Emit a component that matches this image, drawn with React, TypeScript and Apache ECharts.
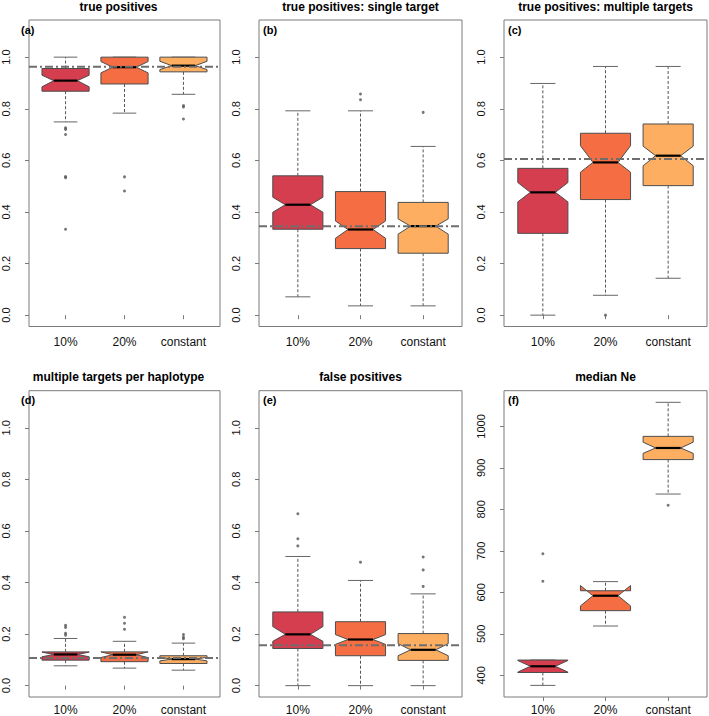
import React, { useEffect, useRef } from 'react';
import * as echarts from 'echarts';

const categories = ['10%', '20%', 'constant'];
const panelTitles = [
  'true positives',
  'true positives: single target',
  'true positives: multiple targets',
  'multiple targets per haplotype',
  'false positives',
  'median Ne',
];
const panelLetters = ['(a)', '(b)', '(c)', '(d)', '(e)', '(f)'];
const boxColors = ['#D53E4F', '#F46D43', '#FDAE61'];

// each row: [lower whisker, Q1, median, Q3, upper whisker, notch low, notch high]
const statsA = [
  [0.749, 0.868, 0.909, 0.956, 1.0, 0.885, 0.93],
  [0.783, 0.896, 0.961, 1.0, 1.0, 0.939, 0.983],
  [0.856, 0.943, 0.967, 1.0, 1.0, 0.952, 0.984],
];
const outliersA = [[0.726, 0.72, 0.7, 0.537, 0.533, 0.333], [0.536, 0.481], [0.812, 0.807, 0.76]];
const refA = 0.963;

const statsB = [
  [0.071, 0.333, 0.428, 0.54, 0.792, 0.399, 0.457],
  [0.036, 0.258, 0.332, 0.479, 0.792, 0.298, 0.365],
  [0.036, 0.24, 0.345, 0.437, 0.654, 0.314, 0.373],
];
const outliersB = [[], [0.857, 0.835], [0.786]];
const refB = 0.345;

const statsC = [
  [0.0, 0.317, 0.476, 0.569, 0.898, 0.439, 0.514],
  [0.077, 0.448, 0.592, 0.705, 0.964, 0.554, 0.657],
  [0.143, 0.502, 0.618, 0.741, 0.964, 0.579, 0.655],
];
const outliersC = [[], [0.0], []];
const refC = 0.605;

const statsD = [
  [0.077, 0.099, 0.121, 0.131, 0.183, 0.112, 0.13],
  [0.068, 0.093, 0.12, 0.131, 0.172, 0.109, 0.131],
  [0.06, 0.086, 0.103, 0.116, 0.165, 0.096, 0.11],
];
const outliersD = [[0.234, 0.226, 0.203, 0.196], [0.265, 0.242, 0.219], [0.198, 0.188, 0.182]];
const refD = 0.107;

const statsE = [
  [0.0, 0.144, 0.199, 0.286, 0.501, 0.172, 0.229],
  [0.0, 0.116, 0.179, 0.248, 0.408, 0.16, 0.198],
  [0.0, 0.098, 0.139, 0.202, 0.356, 0.116, 0.163],
];
const outliersE = [[0.667, 0.57, 0.542], [0.479], [0.499, 0.449, 0.385]];
const refE = 0.157;

const statsF = [
  [376, 407, 422, 437, 437, 408, 436],
  [519, 556, 592, 604, 626, 567.5, 616.5],
  [837, 920, 948, 976, 1058, 935, 962],
];
const outliersF = [[693, 627], [], [810]];

const unitTicks = [0, 0.2, 0.4, 0.6, 0.8, 1.0];
const neTicks = [400, 500, 600, 700, 800, 900, 1000];

const FONT = "'Liberation Sans', Arial, Helvetica, sans-serif";
const FRAME = '#7a7a7a';

// layout
const colLefts = [17, 259, 504];
const rowTops = [20, 390.7];
const rowHeights = [306.5, 307.6];
const panelWidth = 203;
const xMin = 0.38;
const xMax = 3.62;

const panels = [
  { stats: statsA, outliers: outliersA, ref: refA, ticks: unitTicks, yMin: -0.044, yMax: 1.144, dec: 1 },
  { stats: statsB, outliers: outliersB, ref: refB, ticks: unitTicks, yMin: -0.044, yMax: 1.144, dec: 1 },
  { stats: statsC, outliers: outliersC, ref: refC, ticks: unitTicks, yMin: -0.044, yMax: 1.144, dec: 1 },
  { stats: statsD, outliers: outliersD, ref: refD, ticks: unitTicks, yMin: -0.044, yMax: 1.144, dec: 1 },
  { stats: statsE, outliers: outliersE, ref: refE, ticks: unitTicks, yMin: -0.044, yMax: 1.144, dec: 1 },
  { stats: statsF, outliers: outliersF, ref: null as number | null, ticks: neTicks, yMin: 348, yMax: 1086, dec: 0 },
];

function renderBox(params: any, api: any) {
  const x = api.value(0);
  const lo = api.value(1);
  const q1 = api.value(2);
  const med = api.value(3);
  const q3 = api.value(4);
  const hi = api.value(5);
  const cLo = api.value(6);
  const cHi = api.value(7);
  const w = 0.4;
  const wn = 0.2;
  const sw = 0.2;
  const P = (a: number, b: number) => api.coord([a, b]);
  const children: any[] = [];
  const dashStyle = { stroke: '#555', lineWidth: 1, lineDash: [3, 2] };
  const capStyle = { stroke: '#666', lineWidth: 1 };
  const seg = (a: number[], b: number[], style: any) => ({
    type: 'line',
    shape: { x1: a[0], y1: a[1], x2: b[0], y2: b[1] },
    style,
  });
  if (hi > q3) children.push(seg(P(x, q3), P(x, hi), dashStyle));
  if (lo < q1) children.push(seg(P(x, q1), P(x, lo), dashStyle));
  children.push(seg(P(x - sw, hi), P(x + sw, hi), capStyle));
  children.push(seg(P(x - sw, lo), P(x + sw, lo), capStyle));
  const pts = [
    P(x - w, q1),
    P(x + w, q1),
    P(x + w, cLo),
    P(x + wn, med),
    P(x + w, cHi),
    P(x + w, q3),
    P(x - w, q3),
    P(x - w, cHi),
    P(x - wn, med),
    P(x - w, cLo),
  ];
  children.push({
    type: 'polygon',
    shape: { points: pts },
    style: { fill: boxColors[params.dataIndex], stroke: '#4d4d4d', lineWidth: 1 },
  });
  children.push(seg(P(x - wn, med), P(x + wn, med), { stroke: '#000', lineWidth: 2.2 }));
  return { type: 'group', children };
}

function buildOption() {
  const grid: any[] = [];
  const xAxis: any[] = [];
  const yAxis: any[] = [];
  const series: any[] = [];
  const graphic: any[] = [];

  panels.forEach((p, i) => {
    const row = Math.floor(i / 3);
    const col = i % 3;
    const left = colLefts[col];
    const top = rowTops[row];
    const height = rowHeights[row];
    grid.push({
      left,
      top,
      width: panelWidth,
      height,
      show: true,
      borderColor: FRAME,
      borderWidth: 1,
      backgroundColor: 'transparent',
      containLabel: false,
    });
    xAxis.push({
      gridIndex: i,
      type: 'value',
      min: xMin,
      max: xMax,
      splitLine: { show: false },
      axisLine: { show: false },
      axisTick: { show: true, customValues: [1, 2, 3], length: 4, lineStyle: { color: FRAME } },
      axisLabel: {
        customValues: [1, 2, 3],
        formatter: (v: number) => categories[Math.round(v) - 1] ?? '',
        margin: row === 0 ? 9.5 : 7,
        fontSize: 12,
        color: '#111',
        fontFamily: FONT,
      },
    });
    yAxis.push({
      gridIndex: i,
      type: 'value',
      min: p.yMin,
      max: p.yMax,
      splitLine: { show: false },
      axisLine: { show: false },
      axisTick: { show: true, customValues: p.ticks, length: 4, lineStyle: { color: FRAME } },
      axisLabel: {
        customValues: p.ticks,
        rotate: 90,
        margin: 18,
        fontSize: 11,
        color: '#111',
        fontFamily: FONT,
        formatter: (v: number) => v.toFixed(p.dec),
      },
    });
    series.push({
      type: 'custom',
      xAxisIndex: i,
      yAxisIndex: i,
      renderItem: renderBox,
      clip: false,
      z: 2,
      data: p.stats.map((s, k) => [k + 1, ...s]),
    });
    series.push({
      type: 'scatter',
      xAxisIndex: i,
      yAxisIndex: i,
      symbol: 'circle',
      symbolSize: 3,
      itemStyle: { color: '#555' },
      z: 3,
      data: p.outliers.flatMap((arr, k) => arr.map((v) => [k + 1, v])),
    });
    if (p.ref !== null) {
      series.push({
        type: 'line',
        xAxisIndex: i,
        yAxisIndex: i,
        symbol: 'none',
        silent: true,
        z: 5,
        lineStyle: { color: '#6e6e6e', width: 2, type: [8, 3, 2, 3] },
        data: [
          [xMin, p.ref],
          [xMax, p.ref],
        ],
      });
    }
    graphic.push({
      type: 'text',
      x: left + panelWidth / 2,
      y: row === 0 ? 6.5 : 377,
      style: {
        text: panelTitles[i],
        font: `bold 12px ${FONT}`,
        fill: '#000',
        align: 'center',
        verticalAlign: 'middle',
        textAlign: 'center',
        textVerticalAlign: 'middle',
      },
    });
    graphic.push({
      type: 'text',
      x: left + 4,
      y: top + 9.5,
      style: {
        text: panelLetters[i],
        font: `bold 11px ${FONT}`,
        fill: '#000',
        align: 'left',
        verticalAlign: 'middle',
        textAlign: 'left',
        textVerticalAlign: 'middle',
      },
    });
  });

  return {
    animation: false,
    backgroundColor: '#fff',
    grid,
    xAxis,
    yAxis,
    series,
    graphic,
  };
}

export default function App() {
  const ref = useRef<HTMLDivElement>(null);
  useEffect(() => {
    if (!ref.current) return;
    const chart = echarts.init(ref.current, null, { renderer: 'svg' });
    chart.setOption(buildOption() as any);
    return () => chart.dispose();
  }, []);
  return (
    <div
      ref={ref}
      style={{ position: 'absolute', left: 0, top: 0, width: 709, height: 716, background: '#fff' }}
    />
  );
}
